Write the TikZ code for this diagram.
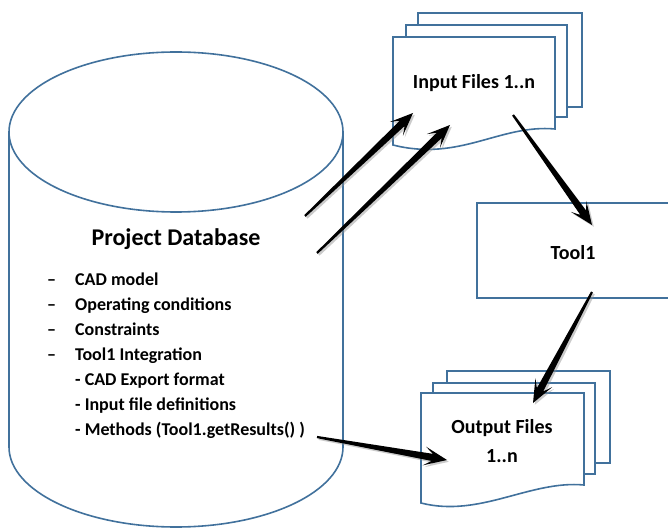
\documentclass[tikz,border=0pt]{standalone}
\usepackage{fontspec}
\setmainfont{Carlito}
\usetikzlibrary{calc}
\definecolor{edgeblue}{RGB}{65,113,156}
\tikzset{
  outline/.style={draw=edgeblue, line width=1.6pt, fill=white, line join=miter},
  lbl/.style={font=\bfseries\fontsize{18}{20}\selectfont, anchor=base west, inner sep=0pt},
  title/.style={font=\bfseries\fontsize{24}{28}\selectfont, anchor=base, inner sep=0pt},
  boxtext/.style={font=\bfseries\fontsize{20}{24}\selectfont, anchor=base, inner sep=0pt},
}
% tapered block arrow from #1 (thin tail) to #2 (tip)
\newcommand\fatarrowpath[2]{%
  ($(#1)!1.1pt!90:(#2)$) -- ($($(#2)!15pt!(#1)$)!3.6pt!90:(#2)$) --
  ($($(#2)!23pt!(#1)$)!9.5pt!90:(#2)$) -- (#2) --
  ($($(#2)!23pt!(#1)$)!9.5pt!-90:(#2)$) -- ($($(#2)!15pt!(#1)$)!3.6pt!-90:(#2)$) --
  ($(#1)!1.1pt!-90:(#2)$) -- cycle}
\newcommand\fatarrow[2]{%
  \begin{scope}[transform canvas={xshift=1.8pt,yshift=-1.8pt}]
    \fill[black!45, opacity=0.45] \fatarrowpath{#1}{#2};
  \end{scope}
  \fill[black] \fatarrowpath{#1}{#2};
}
\begin{document}
\begin{tikzpicture}[x=1pt, y=-1pt]
\useasboundingbox (0,0) rectangle (668,529);

% database cylinder
\draw[outline] (9,132) -- (9,447) arc[start angle=180, end angle=0, x radius=167, y radius=80]
  -- (343,132);
\draw[outline] (176,132) ellipse[x radius=167, y radius=80];
\node[title] (dbtitle) at (176,245) {Project Database};
\foreach \i/\y/\t in {1/285/CAD model, 2/310/Operating conditions, 3/335/Constraints, 4/360/Tool1 Integration}{
  \node[lbl] (dash\i) at (47,\y) {–};
  \node[lbl] (item\i) at (75,\y) {\t};
}
\node[lbl] (sub1) at (75,385) {- CAD Export format};
\node[lbl] (sub2) at (75,410) {- Input file definitions};
\node[lbl] (sub3) at (75,435) {- Methods (Tool1.getResults() )};

% input file stack
\draw[outline] (418,13) rectangle (582,107);
\draw[outline] (406,25) rectangle (567,117);
\draw[outline] (393,37) -- (555,37) -- (555,129)
  .. controls (500,124) and (460,162) .. (393,145) -- cycle;
\node[boxtext] (infiles) at (474,89) {Input Files 1..n};

% tool box, running off the right edge
\draw[outline, fill=none] (670,203) -- (477,203) -- (477,298) -- (670,298);
\node[boxtext] (tool) at (573,259) {Tool1};

% output file stack
\draw[outline] (447,371) rectangle (610,463);
\draw[outline] (433,383) rectangle (595,474);
\draw[outline] (421,393) -- (584,393) -- (584,485)
  .. controls (530,480) and (480,518) .. (421,503) -- cycle;
\node[boxtext] (outfiles) at (502,433) {Output Files};
\node[boxtext] (outn) at (502,462) {1..n};

% connector end points
\coordinate (a1t) at (305,216);  \coordinate (a1h) at (413,113);
\coordinate (a2t) at (317,253);  \coordinate (a2h) at (450,125);
\coordinate (a3t) at (513,115);  \coordinate (a3h) at (592,225);
\coordinate (a4t) at (592,292);  \coordinate (a4h) at (533,403);
\coordinate (a5t) at (317,437);  \coordinate (a5h) at (447,460);

\fatarrow{a1t}{a1h}
\fatarrow{a2t}{a2h}
\fatarrow{a3t}{a3h}
\fatarrow{a4t}{a4h}
\fatarrow{a5t}{a5h}
\end{tikzpicture}
\end{document}
